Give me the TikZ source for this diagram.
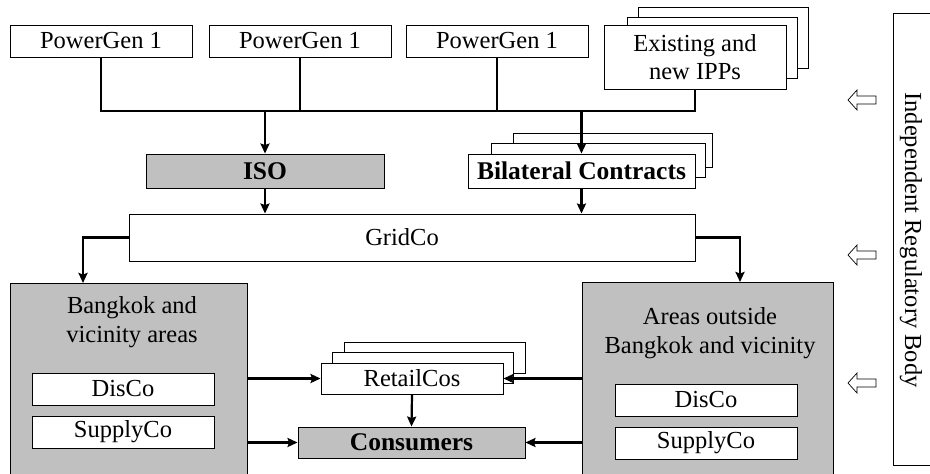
\documentclass[tikz,border=0pt]{standalone}
\usepackage{fontspec}
\setmainfont{Liberation Serif}
\usetikzlibrary{arrows.meta}
\definecolor{panel}{RGB}{192,192,192}
\begin{document}
\begin{tikzpicture}[x=1pt,y=-1pt,
  txt/.style={font=\fontsize{24.5}{28.5}\selectfont, align=center, inner sep=0pt},
  bold/.style={font=\fontsize{25.5}{29}\selectfont\bfseries},
  box/.style={txt, draw, line width=0.9pt, fill=white},
  wire/.style={line width=2.2pt},
  arr/.style={wire, -{Stealth[length=10pt,width=9pt,inset=1.5pt]}},
  hollow/.style={line width=0.7pt, fill=white, line join=miter}]
\useasboundingbox (0,0) rectangle (930,474);

% generators
\node[box, minimum width=182pt, minimum height=32pt] (pg1) at (101,41) {PowerGen 1};
\node[box, minimum width=182pt, minimum height=32pt] (pg2) at (300,41) {PowerGen 1};
\node[box, minimum width=182pt, minimum height=32pt] (pg3) at (497,41) {PowerGen 1};
\node[box, minimum width=170pt, minimum height=61pt] (ipp3) at (723,37.5) {};
\node[box, minimum width=170pt, minimum height=61pt] (ipp2) at (712,47.5) {};
\node[box, minimum width=182pt, minimum height=64pt] (ipp) at (695,57) {Existing and\\new IPPs};

% market layer
\node[box, bold, fill=panel, minimum width=238pt, minimum height=34pt] (iso) at (265,171) {ISO};
\node[box, minimum width=199pt, minimum height=34pt] (bil3) at (612.5,150) {};
\node[box, minimum width=214pt, minimum height=34pt] (bil2) at (598,160) {};
\node[box, bold, minimum width=227pt, minimum height=34pt] (bil) at (581.5,171) {Bilateral Contracts};

% grid
\node[box, minimum width=566pt, minimum height=47pt] (grid) at (412,237.5) {};
\node[txt] (gridt) at (402,237.5) {GridCo};

% distribution areas
\node[box, fill=panel, minimum width=237pt, minimum height=197pt] (bkk) at (128.5,381.5) {};
\node[txt] (bkkt) at (132,322) {Bangkok and\\vicinity areas};
\node[box, minimum width=182pt, minimum height=32pt] (disco1) at (123,389) {DisCo};
\node[box, minimum width=182pt, minimum height=32pt] (supply1) at (123,432) {SupplyCo};

\node[box, fill=panel, minimum width=251pt, minimum height=198pt] (out) at (707.5,381) {};
\node[txt] (outt) at (710,333) {Areas outside\\Bangkok and vicinity};
\node[box, minimum width=182pt, minimum height=32pt] (disco2) at (706,400) {DisCo};
\node[box, minimum width=182pt, minimum height=32pt] (supply2) at (706,443) {SupplyCo};

% retail and consumers
\node[box, minimum width=181pt, minimum height=31pt] (retail3) at (434.5,357.5) {};
\node[box, minimum width=181pt, minimum height=31pt] (retail2) at (422.5,367.5) {};
\node[box, minimum width=182pt, minimum height=31pt] (retail) at (412,378.5) {RetailCos};
\node[box, bold, fill=panel, minimum width=227pt, minimum height=31pt] (cons) at (411.5,442.5) {Consumers};

% generation bus
\coordinate (busL) at (101,111);
\draw[wire] (pg1.south) -- (busL) -- (busL -| ipp.south) -- (ipp.south);
\draw[wire] (pg2.south) -- (pg2.south |- busL);
\draw[wire] (pg3.south) -- (pg3.south |- busL);
\draw[arr] (iso.north |- busL) -- (iso.north);
\draw[arr] (bil.north |- busL) -- (bil.north);

% into the grid
\draw[arr] (iso.south) -- (iso.south |- grid.north);
\draw[arr] (bil.south) -- (bil.south |- grid.north);

% grid to areas
\coordinate (bkkin) at (83,283);
\coordinate (outin) at (740,282);
\draw[arr] (grid.west) -| (bkkin);
\draw[arr] (grid.east) -| (outin);

% areas to retail and consumers
\draw[arr] (retail.west -| bkk.east) -- (retail.west);
\draw[arr] (retail.east -| out.west) -- (retail.east);
\draw[arr] (cons.west -| bkk.east) -- (cons.west);
\draw[arr] (cons.east -| out.west) -- (cons.east);
\draw[arr] (retail.south) -- (cons.north);

% regulator
\draw[line width=0.9pt] (940,13) -| (893,465) -- (940,465);
\node[txt, rotate=-90] (irb) at (911,240) {Independent Regulatory Body};
\foreach \yy in {100,255,383}{
  \draw[hollow] (848,\yy) -- (857,\yy-10) -- (857,\yy-4) -- (876,\yy-4)
    -- (876,\yy+4) -- (857,\yy+4) -- (857,\yy+10) -- cycle;
}
\end{tikzpicture}
\end{document}
